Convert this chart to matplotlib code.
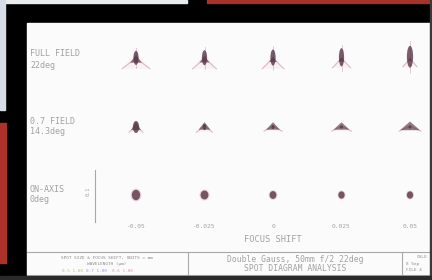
import matplotlib
matplotlib.use("Agg")
import matplotlib.pyplot as plt
from matplotlib.patches import Rectangle, Ellipse, Polygon

# ---------------- data ----------------
row_labels = [["FULL FIELD", "22deg"], ["0.7 FIELD", "14.3deg"], ["ON-AXIS", "0deg"]]
focus_shift = ["-0.05", "-0.025", "0", "0.025", "0.05"]
x_title = "FOCUS SHIFT"
scale_label = "0.1"
title_lines = ["Double Gauss, 50mm f/2 22deg", "SPOT DIAGRAM ANALYSIS"]
left_box = ["SPOT SIZE & FOCUS SHIFT, UNITS = mm", "WAVELENGTH (\u00b5m)"]
wave_entries = ["0.5 1.00", "0.7 1.00", "0.6 1.00"]
right_box = ["OSLO", "8 Sep", "FILE 4"]

# spot dimensions (micrometres), one row per field, one column per focus shift
core_w = [[10, 10, 10, 10, 12], [12, 7, 6, 6, 6], [16, 15, 13, 12, 12]]
core_h = [[27, 29, 31, 35, 42], [23, 12, 8, 6, 6], [20, 17, 15, 14, 14]]
tent_w = [[23, 19, 15, 12, 8], [19, 23, 27, 31, 38], [0, 0, 0, 0, 0]]
tent_h = [[13, 12, 10, 8, 6], [15, 13, 13, 13, 15], [0, 0, 0, 0, 0]]
wing_w = [[54, 46, 42, 35, 27], [27, 31, 35, 38, 42], [0, 0, 0, 0, 0]]
wing_h = [[17, 17, 17, 15, 13], [10, 10, 8, 8, 8], [0, 0, 0, 0, 0]]

# ---------------- figure ----------------
fig = plt.figure(figsize=(4.32, 2.80), dpi=100)
ax = fig.add_axes([0, 0, 1, 1])
ax.set_xlim(0, 432)
ax.set_ylim(280, 0)
ax.axis("off")

# photo surroundings
ax.add_patch(Rectangle((0, 0), 432, 280, color="black", zorder=0))
ax.add_patch(Rectangle((0, 0), 187, 3, color="#e9ecef", zorder=1))
ax.add_patch(Rectangle((0, 0), 5, 110, color="#d6dde6", zorder=1))
ax.add_patch(Rectangle((207, 0), 225, 3, color="#a8322a", zorder=1))
ax.add_patch(Rectangle((0, 123), 6, 140, color="#ad3128", zorder=1))
# screen panel
ax.add_patch(Rectangle((27, 23), 403, 252, color="#fbfbfb", zorder=1))

txt = "#a2a2a2"
mono = "DejaVu Sans Mono"

# row labels
row_y = [60, 127, 195]
for (l1, l2), y in zip(row_labels, row_y):
    ax.text(30, y - 6, l1, fontsize=6.0, family=mono, color=txt, va="center", ha="left", zorder=3)
    ax.text(30, y + 5, l2, fontsize=6.0, family=mono, color=txt, va="center", ha="left", zorder=3)

# scale bar
scale_px_per_um = 0.52
ax.plot([95, 95], [170, 170 + 100 * scale_px_per_um], color="#a8a8a8", lw=0.8, zorder=3)
ax.text(88, 191, scale_label, fontsize=3.8, family=mono, color=txt, rotation=90,
        va="center", ha="center", zorder=3)

# spots
col_x0, col_dx = 136, 68.5
core_col = "#573646"
flare_col = "#d89aae"
for r, cy in enumerate(row_y):
    for c in range(len(focus_shift)):
        cx = col_x0 + c * col_dx
        s = scale_px_per_um
        ww, wh = wing_w[r][c] * s, wing_h[r][c] * s
        if ww > 0:
            ax.add_patch(Polygon([[cx, cy - wh * 0.8], [cx - ww / 2, cy + wh], [cx + ww / 2, cy + wh]],
                                 closed=True, color=flare_col, alpha=0.10, lw=0, zorder=3))
            ax.plot([cx - ww / 2, cx, cx + ww / 2], [cy + wh, cy - wh * 0.2, cy + wh],
                    color=flare_col, lw=0.7, alpha=0.75, zorder=3)
        tw, th = tent_w[r][c] * s, tent_h[r][c] * s
        if tw > 0:
            ax.add_patch(Polygon([[cx, cy - th * 0.7], [cx - tw / 2, cy + th * 0.4],
                                  [cx + tw / 2, cy + th * 0.4]],
                                 closed=True, color=core_col, alpha=0.65, lw=0, zorder=4))
        cw, ch = core_w[r][c] * s, core_h[r][c] * s
        off = -ch * 0.15 if r == 0 else 0
        if r == 2:
            ax.add_patch(Ellipse((cx, cy), cw * 1.3, ch * 1.25, color=flare_col, alpha=0.4, lw=0, zorder=4))
        ax.add_patch(Ellipse((cx, cy + off), cw, ch, color=core_col, alpha=0.8, lw=0, zorder=5))
        if r == 0:
            ax.plot([cx, cx], [cy + off - ch * 0.7, cy + off + ch * 0.75], color=flare_col,
                    lw=0.6, alpha=0.6, zorder=3)

# focus shift labels
for c, lab in enumerate(focus_shift):
    ax.text(col_x0 + c * col_dx, 226, lab, fontsize=4.5, family=mono, color=txt,
            ha="center", va="center", zorder=3)
ax.text(273, 240, x_title, fontsize=6.2, family=mono, color=txt, ha="center", va="center", zorder=3)

# title block
lc = "#a8a8a8"
ax.plot([27, 430], [252, 252], color=lc, lw=0.8, zorder=3)
ax.plot([188, 188], [252, 275], color=lc, lw=0.8, zorder=3)
ax.plot([402, 402], [252, 275], color=lc, lw=0.8, zorder=3)
ax.plot([27, 430], [275, 275], color="#b5b5b5", lw=0.8, zorder=3)

sub = "#8e8e8e"
ax.text(107, 258, left_box[0], fontsize=3.2, family=mono, color=sub, ha="center", va="center", zorder=3)
ax.text(107, 264, left_box[1], fontsize=3.2, family=mono, color=sub, ha="center", va="center", zorder=3)
wave_cols = ["#a8c87a", "#9a9fd8", "#d89ac8"]
for i, (w, wc) in enumerate(zip(wave_entries, wave_cols)):
    ax.text(72 + i * 25, 270.5, w, fontsize=3.2, family=mono, color=wc, ha="center", va="center", zorder=3)

ax.text(295, 260, title_lines[0], fontsize=5.8, family=mono, color=txt, ha="center", va="center", zorder=3)
ax.text(295, 268.5, title_lines[1], fontsize=5.8, family=mono, color=txt, ha="center", va="center", zorder=3)

for i, t in enumerate(right_box):
    ax.text(417 if i == 0 else 406, 257 + i * 6.5, t, fontsize=3.2, family=mono, color=sub,
            ha="left", va="center", zorder=3)

# right edge of screen
ax.add_patch(Rectangle((430, 0), 2, 280, color="#3a3a3a", zorder=6))
ax.add_patch(Rectangle((0, 276), 432, 4, color="#2a2a2a", zorder=6))

fig.savefig("out.png", dpi=100)
